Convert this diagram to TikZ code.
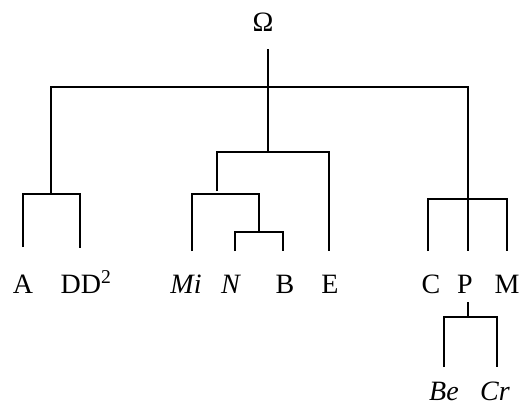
\documentclass[tikz,border=0pt]{standalone}
\usepackage{fontspec}
\setmainfont{Liberation Serif}
\begin{document}
\begin{tikzpicture}[x=1pt,y=-1pt,
  lbl/.style={anchor=base,inner sep=0pt,font=\fontsize{28}{32}\selectfont},
  br/.style={line width=2pt}]
\useasboundingbox (0,0) rectangle (524,407);
% labels
\node[lbl] (om) at (263,31) {Ω};
\node[lbl] (A) at (23,293) {A};
\node[lbl] (DD) at (86,293) {DD\textsuperscript{2}};
\node[lbl] (Mi) at (186,293) {\textit{Mi}};
\node[lbl] (N) at (231,293) {\textit{N}};
\node[lbl] (B) at (285,293) {B};
\node[lbl] (E) at (330,293) {E};
\node[lbl] (C) at (431,293) {C};
\node[lbl] (P) at (465,293) {P};
\node[lbl] (M) at (507,293) {M};
\node[lbl] (Be) at (444,400) {\textit{Be}};
\node[lbl] (Cr) at (495,400) {\textit{Cr}};
% junctions
\coordinate (r0) at (268,49);
\coordinate (r1) at (268,87);
\coordinate (gL) at (51,194);
\coordinate (gM) at (268,152);
\coordinate (gR) at (468,199);
\coordinate (mTop) at (217,191);
\coordinate (mJ) at (217,152);
\coordinate (miJ) at (259,194);
\coordinate (nbJ) at (259,232);
\coordinate (pTop) at (468,302);
\coordinate (pJ) at (468,317);
% leaf ends
\coordinate (eA) at (23,247);
\coordinate (eD) at (80,248);
\coordinate (eMi) at (192,251);
\coordinate (eN) at (235,251);
\coordinate (eB) at (283,251);
\coordinate (eE) at (329,251);
\coordinate (eC) at (428,251);
\coordinate (eP) at (468,251);
\coordinate (eM) at (507,251);
\coordinate (eBe) at (444,367);
\coordinate (eCr) at (497,367);
% tree
\draw[br] (r0) -- (r1);
\draw[br] (gL) |- (r1) -| (gR);
\draw[br] (r1) -- (gM);
\draw[br] (eA) |- (gL) -| (eD);
\draw[br] (mTop) -- (mJ) -| (eE);
\draw[br] (mJ) -- (gM);
\draw[br] (eMi) |- (miJ) -- (nbJ);
\draw[br] (eN) |- (nbJ) -| (eB);
\draw[br] (eC) |- (gR) -| (eM);
\draw[br] (gR) -- (eP);
\draw[br] (pTop) -- (pJ);
\draw[br] (eBe) |- (pJ) -| (eCr);
\end{tikzpicture}
\end{document}
